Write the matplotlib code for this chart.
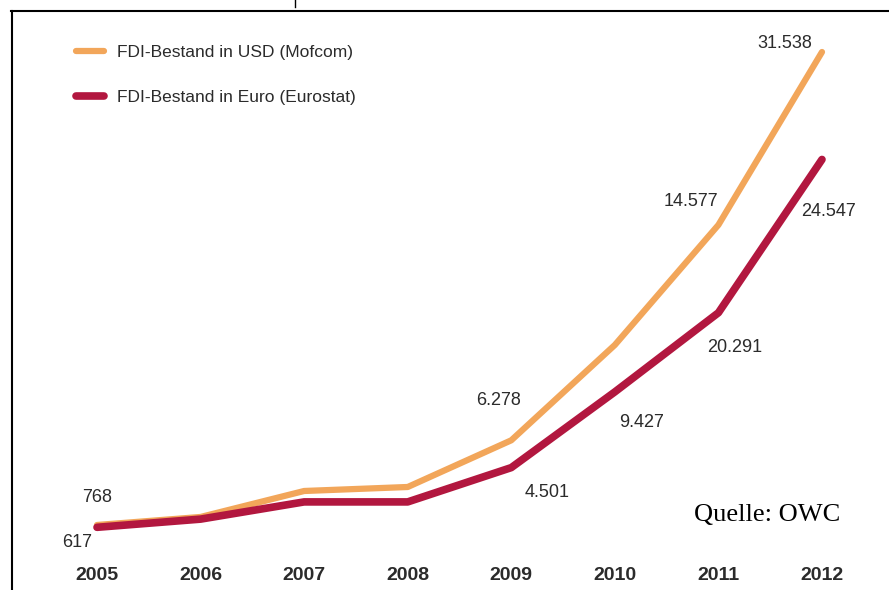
import matplotlib
matplotlib.use("Agg")
import matplotlib.pyplot as plt
from matplotlib.lines import Line2D

years = [2005, 2006, 2007, 2008, 2009, 2010, 2011, 2012]
usd_values = [768, 1290, 2980, 3240, 6278, 12480, 20291, 31538]
euro_values = [617, 1150, 2270, 2270, 4501, 9427, 14577, 24547]

usd_label_text = ["768", "6.278", "14.577", "31.538"]
usd_label_years = [2005, 2009, 2011, 2012]
euro_label_text = ["617", "4.501", "9.427", "20.291", "24.547"]
euro_label_years = [2005, 2009, 2010, 2011, 2012]

usd_name = "FDI-Bestand in USD (Mofcom)"
euro_name = "FDI-Bestand in Euro (Eurostat)"
source = "Quelle: OWC"

ORANGE = "#F2A65A"
RED = "#B2173F"
TXT = "#2b2b2b"
SANS = ["Liberation Sans", "DejaVu Sans"]

W, H = 889, 590
fig = plt.figure(figsize=(W / 100, H / 100), dpi=100)
ax = fig.add_axes([0, 35 / H, 1, 555 / H])
ax.set_xlim(2004.0634, 2012.647)
ax.set_ylim(-1184, 34921)
for s in ax.spines.values():
    s.set_visible(False)
ax.set_yticks([])
ax.set_xticks(years)
ax.set_xticklabels([str(y) for y in years], family=SANS, fontweight="bold",
                   fontsize=14, color=TXT)
ax.tick_params(axis="x", length=0, pad=9)

l_usd, = ax.plot(years, usd_values, color=ORANGE, lw=4.5, solid_joinstyle="round",
                 solid_capstyle="round", label=usd_name, zorder=3)
l_eur, = ax.plot(years, euro_values, color=RED, lw=5.5, solid_joinstyle="round",
                 solid_capstyle="round", label=euro_name, zorder=4)

# value labels (offsets in points relative to the data point)
usd_offsets = {2005: (0, 20), 2009: (-9, 29), 2011: (-20, 16.5), 2012: (-27, 6)}
euro_offsets = {2005: (-14, -11), 2009: (26, -18), 2010: (19, -22),
                2011: (11.5, -25), 2012: (5, -37.5)}
for y, t in zip(usd_label_years, usd_label_text):
    v = usd_values[years.index(y)]
    ax.annotate(t, (y, v), xytext=usd_offsets[y], textcoords="offset points",
                ha="center", va="center", family=SANS, fontsize=13, color=TXT)
for y, t in zip(euro_label_years, euro_label_text):
    v = euro_values[years.index(y)]
    ax.annotate(t, (y, v), xytext=euro_offsets[y], textcoords="offset points",
                ha="center", va="center", family=SANS, fontsize=13, color=TXT)

leg = ax.legend(handles=[l_usd, l_eur], loc="upper left", frameon=False,
                bbox_to_anchor=(76 / W, 1 - 45 / H), bbox_transform=fig.transFigure,
                borderpad=0, borderaxespad=0, handlelength=1.6, handletextpad=0.75,
                labelspacing=1.73, prop={"family": SANS, "size": 12.5})
for t in leg.get_texts():
    t.set_color(TXT)

fig.text(767 / W, 1 - 515 / H, source, family=["Liberation Serif", "DejaVu Serif"],
         fontsize=19, ha="center", va="center", color="black")

# frame lines
fig.add_artist(Line2D([12 / W, 12 / W], [0, 1 - 11 / H], transform=fig.transFigure,
                      color="black", lw=1.5))
fig.add_artist(Line2D([11 / W, 1], [1 - 11 / H, 1 - 11 / H], transform=fig.transFigure,
                      color="black", lw=1.5))
fig.add_artist(Line2D([295 / W, 295 / W], [1, 1 - 7 / H], transform=fig.transFigure,
                      color="black", lw=1))

fig.savefig("out.png", dpi=100)
